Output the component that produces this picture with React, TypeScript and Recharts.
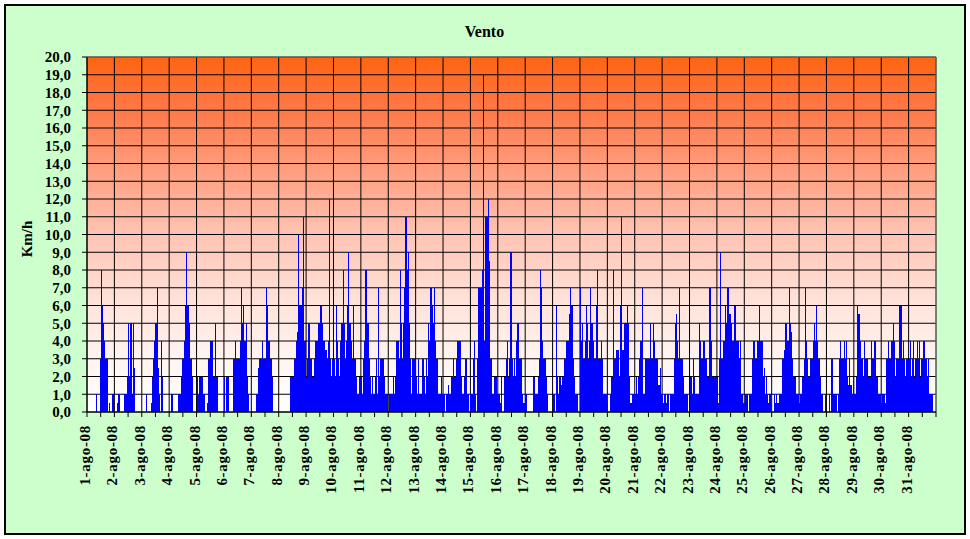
import React from 'react';
import { ComposedChart, Area, XAxis, YAxis, CartesianGrid, ReferenceLine } from 'recharts';

const FONT = "'Liberation Serif', 'Times New Roman', serif";

const dayLabels = [
  '1-ago-08', '2-ago-08', '3-ago-08', '4-ago-08', '5-ago-08', '6-ago-08', '7-ago-08', '8-ago-08',
  '9-ago-08', '10-ago-08', '11-ago-08', '12-ago-08', '13-ago-08', '14-ago-08', '15-ago-08', '16-ago-08',
  '17-ago-08', '18-ago-08', '19-ago-08', '20-ago-08', '21-ago-08', '22-ago-08', '23-ago-08', '24-ago-08',
  '25-ago-08', '26-ago-08', '27-ago-08', '28-ago-08', '29-ago-08', '30-ago-08', '31-ago-08',
];

const yTicks = [0, 1, 2, 3, 4, 5, 6, 7, 8, 9, 10, 11, 12, 13, 14, 15, 16, 17, 18, 19, 20];

// hourly wind speed (Km/h), one array per day
const day01 = [0, 0, 0, 0, 0, 0, 0, 0, 1, 0, 0, 3, 8, 6, 5, 4, 3, 3, 0, 0.5, 0, 0, 1, 1];
const day02 = [0, 0, 0.5, 1, 1, 0, 0, 0, 1, 1, 1, 2, 5, 2, 5, 1, 5, 2.5, 0, 0, 0, 0, 0, 0];
const day03 = [0, 0, 0, 0, 1, 0, 0, 0, 0.5, 2, 3, 4, 5, 7, 2.5, 1, 0, 4, 2, 0, 0, 0, 0, 0];
const day04 = [0, 0, 1, 0, 0, 0, 0, 0, 1, 1, 2, 3, 3, 4, 6, 9, 6, 5, 3, 3, 2, 0, 0, 0];
const day05 = [2, 1, 2, 2, 2, 2, 1, 0, 0, 0.5, 3, 3, 4, 4, 2, 2, 5, 2, 2, 0, 0, 0, 0, 0];
const day06 = [2, 0, 2, 2, 0, 0, 0, 0, 3, 3, 4, 3, 3, 3, 4, 7, 5, 6, 4, 5, 2, 1, 0, 0];
const day07 = [0, 0, 0, 0, 1, 1, 2.5, 3, 3, 4, 3, 3, 3, 7, 6, 4, 3, 3, 2, 0, 0, 0, 0, 0];
const day08 = [0, 0, 0, 0, 0, 0, 0, 0, 0, 0, 2, 2, 2, 3, 3, 4, 4.5, 10, 6, 6, 7, 11, 4, 4];
const day09 = [2, 3, 5, 3, 3, 2, 2, 3, 4, 4, 5, 5, 6, 6, 5, 4, 4, 3.5, 3, 4, 12, 3, 2, 3];
const day10 = [3, 2, 6, 4, 3, 2, 4, 5, 8, 5, 3, 4, 6, 9, 5, 4, 3, 6, 3, 3, 2, 1, 2, 2];
const day11 = [2, 1, 3, 4, 8, 5, 5, 3, 2, 1, 2, 1, 2, 3, 1, 7, 2, 3, 3, 3, 2, 1, 1, 1];
const day12 = [0, 1, 1, 1, 2, 1, 2, 4, 4, 3, 8, 5, 3, 5, 7, 11, 8, 9, 5, 3, 1, 3, 3, 3];
const day13 = [2, 1, 3, 1, 1, 1, 3, 2, 1, 3, 2, 5, 4, 7, 6, 5, 7, 4, 3, 3, 1, 1, 2, 1];
const day14 = [1, 1, 0, 1, 1.5, 1, 1, 2, 2, 3, 2, 3, 4, 4, 4, 4, 2, 1, 2, 3, 3, 1, 1, 0];
const day15 = [1, 1, 3, 4, 1, 0, 3, 7, 7, 7, 8, 19, 4, 11, 11, 12, 8.5, 3, 3, 1, 1, 2, 2, 1];
const day16 = [1, 1, 0.5, 2, 0, 2, 2, 3, 4, 2, 3, 9, 3, 2, 3, 2, 4, 5, 5, 3, 3, 1, 0.5, 0.5];
const day17 = [1, 1, 0, 0, 0, 0, 0, 2, 2, 1, 1, 2, 3, 8, 7, 4, 3, 3, 2, 1, 0, 0, 0, 0];
const day18 = [1, 1, 0, 6, 2, 1, 2, 1.5, 2, 2, 3, 3, 4, 4, 5.5, 7, 6, 6, 3, 2, 1, 1, 0, 0];
const day19 = [7, 4, 5, 3, 4, 6, 5, 3, 4, 7, 5, 4, 3, 3, 6, 8, 3, 3, 4, 3, 1, 1, 1, 1];
const day20 = [0.5, 0, 1, 2, 2, 8, 3, 3, 3.5, 3.5, 2, 6, 11, 3.5, 3.5, 5, 5, 6, 5, 2, 0.5, 0.5, 1, 1];
const day21 = [1, 2, 1, 2, 3, 4, 7, 1, 1, 3, 3, 3, 3, 5, 3, 3, 5, 4, 3, 3, 1.5, 1.5, 2.5, 1];
const day22 = [1, 0.5, 1, 0.5, 1, 1, 0, 1, 1, 1, 3, 5, 5.5, 4, 3, 7, 3, 3, 2, 1, 1, 1, 1, 0];
const day23 = [2, 2, 1, 3, 2, 1, 1, 1, 5, 4, 3, 3, 4, 4, 3, 2, 2, 7, 7, 4, 2, 2, 2, 2];
const day24 = [2, 0.5, 3, 9, 3, 4, 4, 6, 5, 7, 7, 5.5, 5, 4, 4, 6, 6, 4, 4, 3, 4, 1, 1, 0.5];
const day25 = [0.5, 1, 1, 0, 1, 1, 1, 3, 4, 3, 3, 4, 4, 6, 4, 4, 2, 2.5, 1, 2, 1, 0.5, 1, 0.5];
const day26 = [0, 0, 1, 0.5, 1, 0.5, 1, 1, 1, 3, 3, 3.5, 5, 4, 4, 7, 5, 4.5, 3, 2, 2, 1, 1, 1];
const day27 = [0.5, 1, 1, 2, 3, 7, 4, 3, 2, 2, 3, 3, 4, 5, 4, 6, 4, 3, 2, 1, 1, 0, 0, 1];
const day28 = [0, 0, 1, 0, 3, 3, 1, 1, 1, 0, 1, 3, 4, 3, 3, 4, 3, 4, 2, 1.5, 3, 1.5, 1, 2];
const day29 = [1, 1, 2, 6, 5.5, 4, 3, 3, 2, 4, 3, 3, 2, 2, 2, 4, 3, 3, 4, 2, 2, 1, 1, 1];
const day30 = [0.5, 1, 1, 0.5, 3, 3, 4, 3, 3, 4, 5, 4, 2, 3, 3, 3, 6, 6, 3, 4, 3, 2, 3, 3];
const day31 = [3, 4, 2, 3, 4, 2, 3, 4, 3, 4, 2, 3, 3, 4, 3, 3, 2, 3, 1, 1, 1, 0, 0, 0];

const days = [
  day01, day02, day03, day04, day05, day06, day07, day08, day09, day10, day11, day12, day13, day14, day15, day16,
  day17, day18, day19, day20, day21, day22, day23, day24, day25, day26, day27, day28, day29, day30, day31,
];

const HOURS_PER_DAY = 24;
const TOTAL = days.length * HOURS_PER_DAY;

const data: { t: number; v: number }[] = [];
days.forEach((arr, d) => {
  arr.forEach((v, h) => data.push({ t: d * HOURS_PER_DAY + h, v }));
});
data.push({ t: TOTAL, v: 0 });

const halfDayTicks = Array.from({ length: days.length * 2 + 1 }, (_, i) => i * 12);
const dayTicks = Array.from({ length: days.length + 1 }, (_, i) => i * HOURS_PER_DAY);

const XTick = (props: any) => {
  const { x, y, payload } = props;
  const v = payload.value;
  if (v % HOURS_PER_DAY !== 0 || v / HOURS_PER_DAY >= dayLabels.length) return <g />;
  const bx = x + 3;
  return (
    <text
      x={bx}
      y={y}
      transform={`rotate(-90 ${bx} ${y})`}
      textAnchor="end"
      fontFamily={FONT}
      fontSize={15}
      fontWeight="bold"
      letterSpacing={0.7}
      fill="#000"
    >
      {dayLabels[v / HOURS_PER_DAY]}
    </text>
  );
};

export default function App() {
  return (
    <div style={{ position: 'absolute', left: 0, top: 0, width: 970, height: 539, background: '#fff' }}>
      <div
        style={{
          position: 'absolute',
          left: 4,
          top: 4,
          width: 958,
          height: 527,
          border: '2px solid #000',
          background: '#CCFFCC',
        }}
      />
      <div style={{ position: 'absolute', left: 0, top: 0 }}>
        <ComposedChart width={970} height={539} data={data} margin={{ top: 57, right: 34, bottom: 0, left: 0 }}>
          <defs>
            <linearGradient id="plotGrad" x1="0" y1="0" x2="0" y2="1">
              <stop offset="0%" stopColor="#FF6410" />
              <stop offset="15%" stopColor="#FF7848" />
              <stop offset="30%" stopColor="#FF9A7A" />
              <stop offset="50%" stopColor="#FFC4B4" />
              <stop offset="70%" stopColor="#FFE4DC" />
              <stop offset="85%" stopColor="#FFF4F0" />
              <stop offset="100%" stopColor="#FFFFFF" />
            </linearGradient>
          </defs>
          <XAxis
            type="number"
            dataKey="t"
            domain={[0, TOTAL]}
            ticks={halfDayTicks}
            interval={0}
            height={127}
            tickSize={5}
            tickMargin={8}
            tick={<XTick />}
            tickLine={{ stroke: '#000' }}
            axisLine={{ stroke: '#000' }}
            allowDataOverflow
          />
          <YAxis
            type="number"
            domain={[0, 20]}
            ticks={yTicks}
            interval={0}
            width={87}
            tickSize={5}
            tickMargin={11}
            tickFormatter={(v: number) => v.toFixed(1).replace('.', ',')}
            tick={{ fill: '#000', fontSize: 15, fontWeight: 'bold', fontFamily: FONT }}
            tickLine={{ stroke: '#000' }}
            axisLine={{ stroke: '#000' }}
            allowDataOverflow
          />
          <CartesianGrid
            stroke="#000"
            strokeWidth={1}
            strokeOpacity={1}
            fill="url(#plotGrad)"
            fillOpacity={1}
            verticalValues={dayTicks}
            horizontalValues={yTicks}
          />
          <Area
            type="stepAfter"
            dataKey="v"
            fill="#0000FF"
            fillOpacity={1}
            stroke="none"
            dot={false}
            activeDot={false}
            isAnimationActive={false}
            shapeRendering="crispEdges"
          />
          <ReferenceLine y={20} stroke="#808080" strokeWidth={1} />
          <ReferenceLine x={TOTAL} stroke="#808080" strokeWidth={1} />
        </ComposedChart>
      </div>
      <svg width={970} height={539} style={{ position: 'absolute', left: 0, top: 0, pointerEvents: 'none' }}>
        <text x={484.5} y={37} textAnchor="middle" fontFamily={FONT} fontSize={16} fontWeight="bold" fill="#000">
          Vento
        </text>
        <text
          x={31.5}
          y={239}
          transform="rotate(-90 31.5 239)"
          textAnchor="middle"
          fontFamily={FONT}
          fontSize={15}
          fontWeight="bold"
          fill="#000"
        >
          Km/h
        </text>
      </svg>
    </div>
  );
}
